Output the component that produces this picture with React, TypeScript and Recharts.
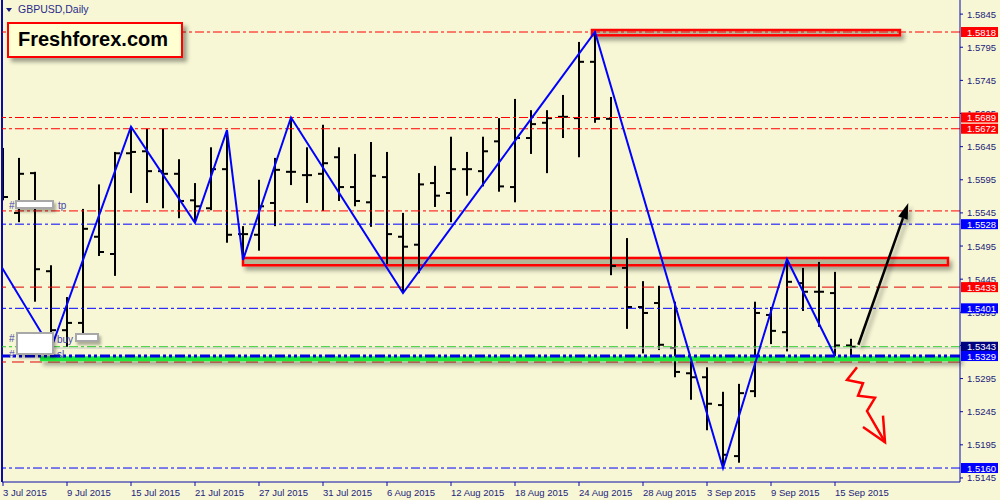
import React from "react";
import {
  ComposedChart,
  Bar,
  Line,
  Scatter,
  XAxis,
  YAxis,
  ReferenceLine,
  ReferenceArea,
} from "recharts";

// daily bars, 3 Jul 2015 .. 16 Sep 2015
const opens = [1.561, 1.5545, 1.5605, 1.5457, 1.5368, 1.5379, 1.5509, 1.5483, 1.5635, 1.5638, 1.5608, 1.5604, 1.5564, 1.5552, 1.5611, 1.5513, 1.5512, 1.556, 1.5607, 1.5602, 1.5604, 1.5629, 1.5584, 1.5561, 1.5599, 1.5509, 1.5497, 1.559, 1.5575, 1.5611, 1.5608, 1.5653, 1.5584, 1.5658, 1.5681, 1.569, 1.5688, 1.5773, 1.5687, 1.5462, 1.5403, 1.5409, 1.5341, 1.5303, 1.5297, 1.5255, 1.5178, 1.5276, 1.5391, 1.5365, 1.5439, 1.5426, 1.5424, 1.5345];
const highs = [1.5643, 1.5628, 1.5607, 1.5466, 1.5418, 1.5551, 1.5588, 1.5637, 1.5675, 1.5672, 1.5672, 1.5626, 1.559, 1.5644, 1.567, 1.5525, 1.5595, 1.5628, 1.5689, 1.5644, 1.5678, 1.5644, 1.5634, 1.5652, 1.5637, 1.5545, 1.5605, 1.5616, 1.566, 1.5637, 1.566, 1.5688, 1.5717, 1.57, 1.57, 1.5723, 1.5803, 1.5818, 1.572, 1.5507, 1.5442, 1.5435, 1.5411, 1.5327, 1.5312, 1.5275, 1.5287, 1.5411, 1.5403, 1.5475, 1.5462, 1.5471, 1.5456, 1.5355];
const lows = [1.5564, 1.5531, 1.5411, 1.534, 1.5343, 1.5361, 1.548, 1.545, 1.5575, 1.556, 1.5552, 1.5537, 1.553, 1.5549, 1.55, 1.5474, 1.5488, 1.5525, 1.5587, 1.556, 1.5548, 1.5563, 1.5555, 1.5524, 1.5468, 1.5424, 1.5454, 1.5554, 1.5531, 1.5571, 1.5585, 1.5577, 1.5561, 1.5634, 1.5605, 1.5658, 1.5629, 1.5681, 1.5451, 1.537, 1.5333, 1.5338, 1.5297, 1.5263, 1.5217, 1.516, 1.5168, 1.5267, 1.5347, 1.5336, 1.5397, 1.5373, 1.5329, 1.5329];
const closes = [1.5569, 1.5604, 1.546, 1.5368, 1.5379, 1.5521, 1.5486, 1.5635, 1.5637, 1.5608, 1.5604, 1.5563, 1.5555, 1.5611, 1.5512, 1.5513, 1.5555, 1.561, 1.5607, 1.5602, 1.562, 1.5584, 1.5563, 1.5601, 1.5513, 1.5494, 1.5588, 1.5571, 1.5611, 1.5611, 1.5638, 1.5585, 1.5658, 1.5679, 1.5688, 1.569, 1.5773, 1.5687, 1.5465, 1.5403, 1.5394, 1.5346, 1.5305, 1.5297, 1.5257, 1.518, 1.5273, 1.5394, 1.5367, 1.5441, 1.5426, 1.5426, 1.5345, 1.5343];

const dateTicks = [0, 4, 8, 12, 16, 20, 24, 28, 32, 36, 40, 44, 48, 52];
const dateLabels = ["3 Jul 2015", "9 Jul 2015", "15 Jul 2015", "21 Jul 2015", "27 Jul 2015", "31 Jul 2015", "6 Aug 2015", "12 Aug 2015", "18 Aug 2015", "24 Aug 2015", "28 Aug 2015", "3 Sep 2015", "9 Sep 2015", "15 Sep 2015"];

const priceTicks = [1.5145, 1.5195, 1.5245, 1.5295, 1.5345, 1.5395, 1.5445, 1.5495, 1.5545, 1.5595, 1.5645, 1.5695, 1.5745, 1.5795, 1.5845];

// zigzag indicator vertices (bar index, price)
const zigzagBars = [-1, 3, 8, 12, 14, 15, 18, 25, 37, 45, 49, 52];
const zigzagPrices = [1.55, 1.534, 1.5675, 1.553, 1.567, 1.5474, 1.5689, 1.5424, 1.5818, 1.516, 1.5475, 1.5329];

// horizontal levels
const levelPrices = [1.5818, 1.5689, 1.5672, 1.5548, 1.5528, 1.5433, 1.5401, 1.5343, 1.516, 1.532];
const levelKinds = ["redDD", "redDD", "redDD", "redDD", "blueDD", "redDash", "blueDD", "greenDD", "blueDD", "redDash"];

// price tags on the right scale
const tagPrices = [1.5818, 1.5689, 1.5672, 1.5528, 1.5433, 1.5401, 1.5343, 1.5329, 1.516];
const tagColors = ["#FF0000", "#FF0000", "#FF0000", "#0000FF", "#FF0000", "#0000FF", "#000080", "#0000FF", "#0000FF"];

// drawn objects
const zoneBars = [[15, 59.06], [36.81, 56.06]];
const zonePrices = [[1.5466, 1.5477], [1.5813, 1.5821]];
const arrowBars = [53.46, 56.58];
const arrowPrices = [1.5346, 1.556];
const squiggleBars = [53.375, 52.75, 53.75, 53.44, 54.5, 54.0, 55.125];
const squigglePrices = [1.5312, 1.5293, 1.5288, 1.5269, 1.5266, 1.5246, 1.5199];
const headBars = [53.75, 55.125, 55.0];
const headPrices = [1.5222, 1.5199, 1.5239];

const BG = "#F7F7D6";
const AXIS = "#0a0aa8";
const TXT = "#23237a";
const FONT = "'Liberation Sans', Arial, sans-serif";

const lineStyle: Record<string, { stroke: string; dash: string }> = {
  redDD: { stroke: "#FF0000", dash: "9 3 3 3" },
  blueDD: { stroke: "#0000FF", dash: "9 3 3 3" },
  greenDD: { stroke: "#22C822", dash: "9 3 3 3" },
  redDash: { stroke: "#E00000", dash: "12 6" },
};

const rows: any[] = [{ i: -1 }];
opens.forEach((o, i) => {
  rows.push({ i, o, h: highs[i], l: lows[i], c: closes[i], range: [lows[i], highs[i]] });
});
zigzagBars.forEach((b, k) => {
  const r = rows.find((d) => d.i === b);
  if (r) r.zz = zigzagPrices[k];
});

const squiggle = squiggleBars.map((b, k) => ({ i: b, p: squigglePrices[k] }));
const head = headBars.map((b, k) => ({ i: b, p: headPrices[k] }));

const OhlcBar = (props: any) => {
  const { x, y, width, height, payload } = props;
  if (!payload || payload.o == null) return null;
  const cx = Math.round(x + width / 2);
  const top = Math.min(y, y + height);
  const bot = Math.max(y, y + height);
  const { o, h, l, c } = payload;
  const py = (v: number) => top + ((h - v) / (h - l || 1)) * (bot - top);
  return (
    <g fill="#000">
      <rect x={cx - 1} y={top} width={2} height={Math.max(bot - top, 1)} />
      <rect x={cx - 5} y={py(o) - 1} width={5} height={2} />
      <rect x={cx} y={py(c) - 1} width={5} height={2} />
    </g>
  );
};

const PriceTick = (props: any) => {
  const { x, y, payload } = props;
  const k = tagPrices.indexOf(payload.value);
  const label = Number(payload.value).toFixed(4);
  if (k >= 0) {
    return (
      <g>
        <rect x={x + 1} y={y - 5} width={37} height={10} fill={tagColors[k]} />
        <text x={x + 7} y={y + 3.5} fill="#fff" fontSize={9.5} fontFamily={FONT}>
          {label}
        </text>
      </g>
    );
  }
  return (
    <g>
      <line x1={x} x2={x + 3} y1={y} y2={y} stroke={AXIS} />
      <text x={x + 7} y={y + 3.5} fill={TXT} fontSize={9.5} fontFamily={FONT}>
        {label}
      </text>
    </g>
  );
};

const DateTick = (props: any) => {
  const { x, y, payload } = props;
  const k = dateTicks.indexOf(payload.value);
  return (
    <g>
      <line x1={x} x2={x} y1={y} y2={y + 4} stroke={AXIS} />
      <text x={x} y={y + 13.5} fill={TXT} fontSize={9.5} fontFamily={FONT}>
        {dateLabels[k]}
      </text>
    </g>
  );
};

const ZoneShape = (props: any) => {
  const { x, y, width, height } = props;
  return (
    <rect x={x} y={y} width={width} height={height} fill="#B4B496" stroke="#FF0000" strokeWidth={2.5} filter="url(#shd)" />
  );
};

const ArrowShape = (props: any) => {
  const { x1, y1, x2, y2 } = props;
  const a = Math.atan2(y2 - y1, x2 - x1);
  const bx = x2 - 16 * Math.cos(a);
  const by = y2 - 16 * Math.sin(a);
  const nx = -Math.sin(a) * 5;
  const ny = Math.cos(a) * 5;
  return (
    <g filter="url(#shd)">
      <line x1={x1} y1={y1} x2={bx} y2={by} stroke="#000" strokeWidth={2.5} />
      <polygon points={`${x2},${y2} ${bx + nx},${by + ny} ${bx - nx},${by - ny}`} fill="#000" />
    </g>
  );
};

const ShadowLine = (props: any) => {
  const { x1, y1, x2, y2 } = props;
  return <line x1={x1} y1={y1} x2={x2} y2={y2} stroke="#1EEB3C" strokeWidth={5} filter="url(#shd)" />;
};

const whiteBox = (left: number, top: number, w: number, h: number) => (
  <div
    style={{
      position: "absolute",
      left,
      top,
      width: w,
      height: h,
      background: "#fff",
      border: "2px solid #A8A8A8",
      boxShadow: "2px 3px 3px rgba(0,0,0,0.3)",
    }}
  />
);

const small = (left: number, top: number, t: string) => (
  <div style={{ position: "absolute", left, top, fontSize: 10, fontFamily: FONT, color: "#4646a8" }}>{t}</div>
);

export default function App() {
  return (
    <div style={{ position: "absolute", left: 0, top: 0, width: 1000, height: 500, background: BG, overflow: "hidden" }}>
      <svg width={0} height={0} style={{ position: "absolute" }}>
        <defs>
          <filter id="shd" filterUnits="userSpaceOnUse" x={0} y={0} width={1000} height={500}>
            <feDropShadow dx={3} dy={4} stdDeviation={2} floodColor="#000" floodOpacity={0.35} />
          </filter>
        </defs>
      </svg>
      <ComposedChart width={1000} height={500} data={rows} margin={{ top: 0, right: 0, bottom: 0, left: 2 }}>
        <XAxis
          type="number"
          dataKey="i"
          domain={[-0.0625, 59.8125]}
          allowDataOverflow
          ticks={dateTicks}
          interval={0}
          tick={<DateTick />}
          tickLine={false}
          tickSize={0}
          tickMargin={0}
          height={18}
          axisLine={{ stroke: AXIS }}
        />
        <YAxis
          type="number"
          orientation="right"
          domain={[1.51389, 1.58663]}
          allowDataOverflow
          ticks={[...priceTicks, ...tagPrices]}
          interval={0}
          tick={<PriceTick />}
          tickLine={false}
          tickSize={0}
          tickMargin={0}
          width={40}
          axisLine={{ stroke: AXIS }}
        />
        <ReferenceLine x={-0.0625} stroke={AXIS} strokeWidth={2} />
        {levelPrices.map((p, k) => (
          <ReferenceLine
            key={"lv" + k}
            y={p}
            stroke={lineStyle[levelKinds[k]].stroke}
            strokeDasharray={lineStyle[levelKinds[k]].dash}
          />
        ))}
        <ReferenceLine segment={[{ x: 3.25, y: 1.5341 }, { x: 59.8125, y: 1.5341 }]} stroke="#C8C8C8" />
        <ReferenceLine segment={[{ x: 2.31, y: 1.5325 }, { x: 59.8125, y: 1.5325 }]} shape={ShadowLine} />
        <ReferenceLine y={1.5329} stroke="#0000E0" strokeWidth={3} strokeDasharray="10 3 3 3 3 3" />
        {zoneBars.map((b, k) => (
          <ReferenceArea
            key={"z" + k}
            x1={b[0]}
            x2={b[1]}
            y1={zonePrices[k][0]}
            y2={zonePrices[k][1]}
            shape={ZoneShape}
          />
        ))}
        <Bar dataKey="range" barSize={10} shape={OhlcBar} isAnimationActive={false} />
        <Line
          dataKey="zz"
          type="linear"
          stroke="#0000FF"
          strokeWidth={2}
          dot={false}
          connectNulls
          isAnimationActive={false}
        />
        <ReferenceLine
          segment={[
            { x: arrowBars[0], y: arrowPrices[0] },
            { x: arrowBars[1], y: arrowPrices[1] },
          ]}
          shape={ArrowShape}
        />
        <Scatter
          data={squiggle}
          dataKey="p"
          line={{ stroke: "#FF0000", strokeWidth: 2.5 }}
          shape={() => <g />}
          isAnimationActive={false}
        />
        <Scatter
          data={head}
          dataKey="p"
          line={{ stroke: "#FF0000", strokeWidth: 2.5 }}
          shape={() => <g />}
          isAnimationActive={false}
        />
      </ComposedChart>

      <div style={{ position: "absolute", left: 6, top: 8, width: 0, height: 0, borderLeft: "3.5px solid transparent", borderRight: "3.5px solid transparent", borderTop: "4px solid #1a1a80" }} />
      <div style={{ position: "absolute", left: 18, top: 3, fontSize: 10.5, fontFamily: FONT, color: "#2a2a8a" }}>GBPUSD,Daily</div>

      <div
        style={{
          position: "absolute",
          left: 7,
          top: 22,
          width: 172,
          height: 32,
          background: "#FFFFD2",
          border: "2px solid #FF0000",
          boxShadow: "4px 4px 4px rgba(0,0,0,0.35)",
        }}
      >
        <div style={{ position: "absolute", left: 9, top: 4, fontSize: 20, fontWeight: "bold", fontFamily: FONT, color: "#000" }}>
          Freshforex.com
        </div>
      </div>

      {small(9, 200, "#")}
      {whiteBox(15, 200, 35, 5)}
      {small(58, 200, "tp")}
      {small(9, 333, "#")}
      {small(57, 334, "buy")}
      {small(9, 349, "#")}
      {small(57, 349, "sl")}
      {whiteBox(16, 332, 34, 19)}
      {whiteBox(75, 333, 20, 5)}
    </div>
  );
}
